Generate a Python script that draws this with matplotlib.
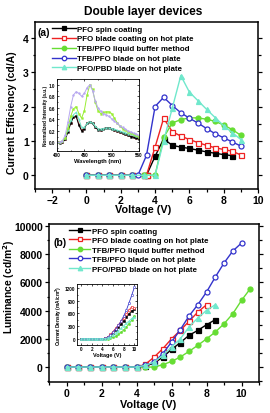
import matplotlib
matplotlib.use("Agg")
import matplotlib.pyplot as plt
from matplotlib.ticker import MultipleLocator

plt.rcParams['font.family'] = ['Liberation Sans', 'DejaVu Sans']
plt.rcParams['font.weight'] = 'bold'
plt.rcParams['axes.labelweight'] = 'bold'

labels = ["PFO spin coating", "PFO blade coating on hot plate",
          "TFB/PFO liquid buffer method", "TFB/PFO blade on hot plate",
          "PFO/PBD blade on hot plate"]
colors = ["#000000", "#ee2222", "#66dd33", "#3333cc", "#70e8cc"]
markers = ["s", "s", "o", "o", "^"]
filled = [True, False, True, False, True]

# ---- (a) current efficiency ----
eff_v_black = [0, 0.67, 1.33, 2, 2.67, 3.33, 3.5, 4, 4.5, 5, 5.5, 6, 6.5, 7, 7.5, 8, 8.5]
eff_black = [0, 0, 0, 0, 0, 0, 0, 0.55, 1.06, 0.87, 0.82, 0.78, 0.73, 0.68, 0.64, 0.60, 0.57]
eff_v_red = [0, 0.67, 1.33, 2, 2.67, 3.33, 3.5, 4, 4.5, 5, 5.5, 6, 6.5, 7, 7.5, 8, 8.5, 9]
eff_red = [0, 0, 0, 0, 0, 0, 0, 0.82, 1.66, 1.27, 1.14, 1.04, 0.95, 0.87, 0.80, 0.75, 0.70, 0.59]
eff_v_green = [0, 0.67, 1.33, 2, 2.67, 3.33, 4, 4.5, 5, 5.5, 6, 6.5, 7, 7.5, 8, 8.5, 9]
eff_green = [0, 0, 0, 0, 0, 0, 0, 1.1, 1.52, 1.62, 1.67, 1.67, 1.63, 1.57, 1.46, 1.33, 1.16]
eff_v_blue = [0, 0.67, 1.33, 2, 2.67, 3, 3.5, 4, 4.5, 5, 5.5, 6, 6.5, 7, 7.5, 8, 8.5, 9]
eff_blue = [0, 0, 0, 0, 0, 0, 0.58, 2.0, 2.27, 2.03, 1.82, 1.66, 1.52, 1.36, 1.21, 1.09, 0.97, 0.85]
eff_v_cyan = [0, 0.67, 1.33, 2, 2.67, 3.33, 4, 4.5, 5, 5.5, 6, 6.5, 7, 7.5, 8, 8.5, 9]
eff_cyan = [0, 0, 0, 0, 0, 0, 0, 1.0, 1.95, 2.9, 2.42, 2.17, 1.92, 1.68, 1.44, 1.24, 1.04]

# ---- inset (a) EL spectra ----
wl = [400, 405, 410, 415, 420, 425, 430, 435, 440, 445, 450, 455, 460, 465, 470, 475,
      480, 485, 490, 495, 500, 505, 510, 515, 520, 525, 530, 535, 540, 545, 550]
sp_black = [0.0, -0.01, 0.0, 0.05, 0.18, 0.33, 0.44, 0.45, 0.30, 0.20, 0.24, 0.33, 0.36, 0.33, 0.26, 0.22,
            0.22, 0.24, 0.25, 0.25, 0.24, 0.22, 0.20, 0.18, 0.16, 0.14, 0.12, 0.10, 0.09, 0.07, 0.06]
sp_red = [0.0, 0.0, 0.01, 0.06, 0.19, 0.34, 0.44, 0.46, 0.32, 0.21, 0.25, 0.33, 0.36, 0.33, 0.27, 0.23,
          0.22, 0.24, 0.25, 0.25, 0.24, 0.22, 0.20, 0.18, 0.16, 0.14, 0.12, 0.11, 0.09, 0.08, 0.07]
sp_green = [0.0, 0.0, 0.02, 0.08, 0.25, 0.45, 0.58, 0.62, 0.50, 0.42, 0.55, 0.82, 1.0, 0.92, 0.70, 0.55,
            0.50, 0.52, 0.53, 0.53, 0.50, 0.42, 0.34, 0.28, 0.24, 0.21, 0.18, 0.16, 0.14, 0.12, 0.10]
sp_blue = [0.0, 0.0, 0.03, 0.12, 0.35, 0.62, 0.82, 0.88, 0.85, 0.80, 0.85, 0.95, 1.0, 0.90, 0.72, 0.60,
           0.54, 0.50, 0.48, 0.45, 0.41, 0.37, 0.33, 0.29, 0.26, 0.23, 0.20, 0.18, 0.16, 0.14, 0.12]
sp_cyan = [0.0, 0.0, 0.02, 0.08, 0.22, 0.38, 0.48, 0.52, 0.40, 0.26, 0.26, 0.33, 0.36, 0.34, 0.28, 0.24,
           0.23, 0.24, 0.25, 0.25, 0.24, 0.23, 0.21, 0.20, 0.18, 0.17, 0.15, 0.14, 0.12, 0.11, 0.10]

# ---- (b) luminance ----
lum_v_black = [0, 0.67, 1.33, 2, 2.67, 3.33, 4, 4.5, 5, 5.5, 6, 6.5, 7, 7.5, 8, 8.5]
lum_black = [0, 0, 0, 0, 0, 0, 0, 70, 280, 700, 1250, 1730, 2250, 2600, 3000, 3360]
lum_v_red = [0, 0.67, 1.33, 2, 2.67, 3.33, 4, 4.5, 5, 5.5, 6, 6.5, 7, 7.5, 8]
lum_red = [0, 0, 0, 0, 0, 0, 0, 190, 700, 1300, 2000, 2600, 3240, 3900, 4420]
lum_v_green = [0, 0.67, 1.33, 2, 2.67, 3.33, 4, 4.5, 5, 5.5, 6, 6.5, 7, 7.5, 8, 8.5, 9, 9.5, 10, 10.5]
lum_green = [0, 0, 0, 0, 0, 0, 0, 0, 0, 165, 400, 710, 1110, 1540, 2000, 2480, 3070, 3780, 4730, 5560]
lum_v_blue = [0, 0.67, 1.33, 2, 2.67, 3.33, 4, 4.5, 5, 5.5, 6, 6.5, 7, 7.5, 8, 8.5, 9, 9.5, 10]
lum_blue = [0, 0, 0, 0, 0, 0, 0, 120, 350, 950, 1770, 2650, 3620, 4420, 5320, 6380, 7380, 8230, 8800]
lum_v_cyan = [0, 0.67, 1.33, 2, 2.67, 3.33, 4, 4.5, 5, 5.5, 6, 6.5, 7, 7.5, 8, 8.5]
lum_cyan = [0, 0, 0, 0, 0, 0, 0, 120, 350, 830, 1420, 2000, 2840, 3480, 4020, 4420]

# ---- inset (b) current density ----
jv = [0, 0.5, 1, 1.5, 2, 2.5, 3, 3.5, 4, 4.5, 5, 5.5, 6, 6.5, 7, 7.5, 8, 8.5, 9, 9.5, 10]
j_black = [0, 0, 0, 0, 0, 0, 0, 0, 0, 5, 30, 80, 140, 200, 270, 340, 420, 510, 590, 660, 700]
j_red = [0, 0, 0, 0, 0, 0, 0, 0, 0, 8, 40, 100, 170, 250, 330, 410, 490, 580, 680, 760, 730]
j_green = [0, 0, 0, 0, 0, 0, 0, 0, 0, 0, 0, 15, 35, 60, 100, 150, 210, 280, 360, 440, 530]
j_blue = [0, 0, 0, 0, 0, 0, 0, 0, 0, 5, 30, 80, 150, 230, 320, 420, 540, 680, 850, 1030, 1220]
j_cyan = [0, 0, 0, 0, 0, 0, 0, 0, 0, 3, 20, 50, 90, 140, 190, 250, 310, 370, 420, 480, 510]

W, H = 270, 414
fig = plt.figure(figsize=(W / 100, H / 100), dpi=100)


def rect(x0, y0, x1, y1):
    return [x0 / W, 1 - y1 / H, (x1 - x0) / W, (y1 - y0) / H]


def style_axes(ax, lw=1.1, fs=7.5, major_len=3, minor_len=1.8):
    for s in ax.spines.values():
        s.set_linewidth(lw)
    ax.tick_params(which='both', width=lw * 0.8, labelsize=fs, pad=1.5)
    ax.tick_params(which='major', length=major_len)
    ax.tick_params(which='minor', length=minor_len)
    ax.tick_params(which='both', direction='out', top=False, right=True)
    for lbl in ax.get_xticklabels() + ax.get_yticklabels():
        lbl.set_fontweight('bold')


def plot_series(ax, xs, ys, ms=3.6, lw=1.0):
    for x, y, c, m, f, lab in zip(xs, ys, colors, markers, filled, labels):
        ax.plot(x, y, color=c, marker=m, ms=ms, lw=lw, label=lab,
                markerfacecolor=(c if f else 'white'), markeredgecolor=c,
                markeredgewidth=0.9)


fig.text(143 / W, 1 - 12 / H, "Double layer devices", ha='center', va='center',
         fontsize=8.6, fontweight='bold')

# ===== panel (a) =====
axa = fig.add_axes(rect(35, 23, 258, 190))
plot_series(axa,
            [eff_v_black, eff_v_red, eff_v_green, eff_v_blue, eff_v_cyan],
            [eff_black, eff_red, eff_green, eff_blue, eff_cyan])
axa.set_xlim(-3, 10)
axa.set_ylim(-0.4, 4.46)
axa.xaxis.set_major_locator(MultipleLocator(2))
axa.xaxis.set_minor_locator(MultipleLocator(1))
axa.yaxis.set_major_locator(MultipleLocator(1))
axa.yaxis.set_minor_locator(MultipleLocator(0.5))
style_axes(axa)
axa.set_xlabel("Voltage (V)", fontsize=7.8, fontweight='bold')
axa.xaxis.set_label_coords((143 - 35) / 223, (190 - 205) / 167)
axa.set_ylabel("Current Efficiency (cd/A)", fontsize=7.6, fontweight='bold')
axa.yaxis.set_label_coords((17 - 35) / 223, (190 - 113) / 167)
axa.text((38 - 35) / 223, (190 - 33) / 167, "(a)", transform=axa.transAxes,
         fontsize=7.5, fontweight='bold', va='center', ha='left')
axa.legend(loc='upper left', bbox_to_anchor=((52 - 35) / 223, (190 - 26) / 167),
           frameon=False, prop={'size': 5.7, 'weight': 'bold'},
           handlelength=3.0, handletextpad=0.2, labelspacing=0.3,
           borderpad=0, borderaxespad=0, markerscale=0.9)

# inset (a)
ina = fig.add_axes(rect(57, 80, 139, 152))
for y, c, m in zip([sp_red, sp_black, sp_cyan, sp_green, sp_blue],
                   ["#ee6666", "#000000", "#70e8cc", "#99ee33", "#b8a8f0"],
                   ["s", "s", "^", "s", "o"]):
    ina.plot(wl, y, color=c, lw=0.7, marker=m, ms=1.3, markeredgewidth=0.3)
ina.set_xlim(400, 550)
ina.set_ylim(-0.15, 1.1)
ina.set_xticks([400, 450, 500, 550])
ina.set_yticks([0.0, 0.2, 0.4, 0.6, 0.8, 1.0])
ina.set_yticklabels(["0.0", "0.2", "0.4", "0.6", "0.8", "1.0"])
for s in ina.spines.values():
    s.set_linewidth(0.6)
ina.tick_params(which='both', direction='in', length=1.5, width=0.5, labelsize=3.3, pad=1,
                top=True, right=True)
ina.xaxis.set_minor_locator(MultipleLocator(25))
ina.yaxis.set_minor_locator(MultipleLocator(0.1))
ina.tick_params(which='minor', length=0.9)
ina.set_xlabel("Wavelength (nm)", fontsize=4.2, fontweight='bold', labelpad=0.5)
ina.set_ylabel("Normalized Intensity (a.u.)", fontsize=3.4, fontweight='bold', labelpad=0.5)

# ===== panel (b) =====
axb = fig.add_axes(rect(49, 225, 259, 383))
plot_series(axb,
            [lum_v_black, lum_v_red, lum_v_green, lum_v_blue, lum_v_cyan],
            [lum_black, lum_red, lum_green, lum_blue, lum_cyan])
axb.set_xlim(-1, 11)
axb.set_ylim(-1060, 10150)
axb.xaxis.set_major_locator(MultipleLocator(2))
axb.xaxis.set_minor_locator(MultipleLocator(1))
axb.yaxis.set_major_locator(MultipleLocator(2000))
axb.yaxis.set_minor_locator(MultipleLocator(1000))
style_axes(axb)
axb.set_xlabel("Voltage (V)", fontsize=7.8, fontweight='bold')
axb.xaxis.set_label_coords((148 - 49) / 210, (383 - 400) / 158)
axb.set_ylabel("Luminance (cd/m$^{\\mathbf{2}}$)", fontsize=7.4, fontweight='bold')
axb.yaxis.set_label_coords((17 - 49) / 210, (383 - 287) / 158)
axb.text((54 - 49) / 210, (383 - 243) / 158, "(b)", transform=axb.transAxes,
         fontsize=7.5, fontweight='bold', va='center', ha='left')
axb.legend(loc='upper left', bbox_to_anchor=((69 - 49) / 210, (383 - 228) / 158),
           frameon=False, prop={'size': 5.7, 'weight': 'bold'},
           handlelength=2.7, handletextpad=0.2, labelspacing=0.25,
           borderpad=0, borderaxespad=0, markerscale=0.9)

# inset (b)
inb = fig.add_axes(rect(77, 285, 137, 346))
for y, c, m, f in zip([j_black, j_red, j_green, j_blue, j_cyan], colors, markers, filled):
    inb.plot(jv, y, color=c, lw=0.6, marker=m, ms=1.6, markeredgewidth=0.4,
             markerfacecolor=(c if f else 'white'), markeredgecolor=c)
inb.set_xlim(-0.8, 10.5)
inb.set_ylim(-150, 1300)
inb.set_xticks([0, 2, 4, 6, 8, 10])
inb.set_yticks([0, 300, 600, 900, 1200])
for s in inb.spines.values():
    s.set_linewidth(0.6)
inb.tick_params(which='both', direction='in', length=1.5, width=0.5, labelsize=3.3, pad=1,
                top=True, right=True)
inb.xaxis.set_minor_locator(MultipleLocator(1))
inb.yaxis.set_minor_locator(MultipleLocator(150))
inb.tick_params(which='minor', length=0.9)
inb.set_xlabel("Voltage (V)", fontsize=4.0, fontweight='bold', labelpad=0.5)
inb.set_ylabel("Current Density (mA/cm$^{\\mathbf{2}}$)", fontsize=3.4, fontweight='bold', labelpad=0.5)

fig.savefig("out.png", dpi=100)
